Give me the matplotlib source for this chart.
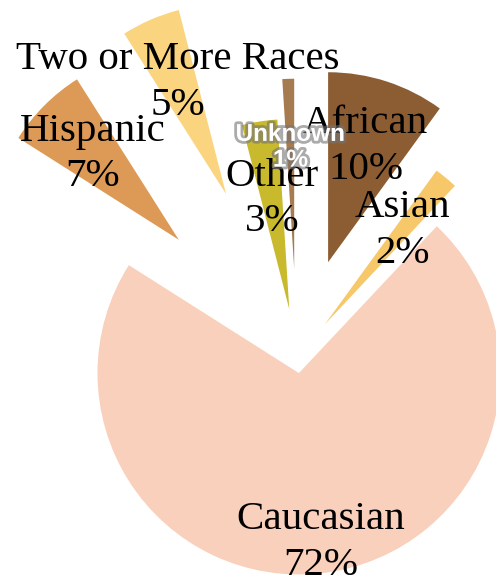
import matplotlib as mpl
mpl.use('Agg')
import matplotlib.pyplot as plt
import matplotlib.patheffects as pe

# data
groups = ['African', 'Asian', 'Caucasian', 'Hispanic', 'Two or More Races', 'Other', 'Unknown']
shares = [10, 2, 72, 7, 5, 3, 1]
colours = ['#8c5d33', '#f7c86a', '#f9d0bb', '#dd9a56', '#fbd47f', '#c9b92c', '#a67b50']
explode = [0.53, 0.23, 0.08, 0.88, 0.94, 0.26, 0.47]

labels = [g + '\n' + str(s) + '%' for g, s in zip(groups, shares)]

fig = plt.figure(figsize=(4.96, 5.83), dpi=100)
ax = fig.add_axes([0, 0, 1, 1])

wedges, texts = ax.pie(shares, labels=labels, colors=colours, explode=explode,
                       startangle=90, counterclock=False, labeldistance=0.64,
                       textprops=dict(ha='center', va='center', fontsize=29.5,
                                      family='Liberation Serif', linespacing=1.3))

# the big slice is a bit larger and its label sits further out
wedges[2].set_radius(1.06)
x, y = texts[2].get_position()
texts[2].set_position((x * 1.36, y * 1.36))

# Other label a little lower
x, y = texts[5].get_position()
texts[5].set_position((x * 0.94, y * 0.94))

# Unknown label is white with a grey glow
texts[6].set(color='white', family='Liberation Sans', weight='bold', fontsize=17.5,
             linespacing=1.15,
             path_effects=[pe.withStroke(linewidth=4, foreground=(0.45, 0.45, 0.45, 0.6))])

ax.set_xlim(-297 / 190, 199 / 190)
ax.set_ylim(-225 / 190, 358 / 190)
ax.axis('off')

plt.savefig('out.png', dpi=100)
